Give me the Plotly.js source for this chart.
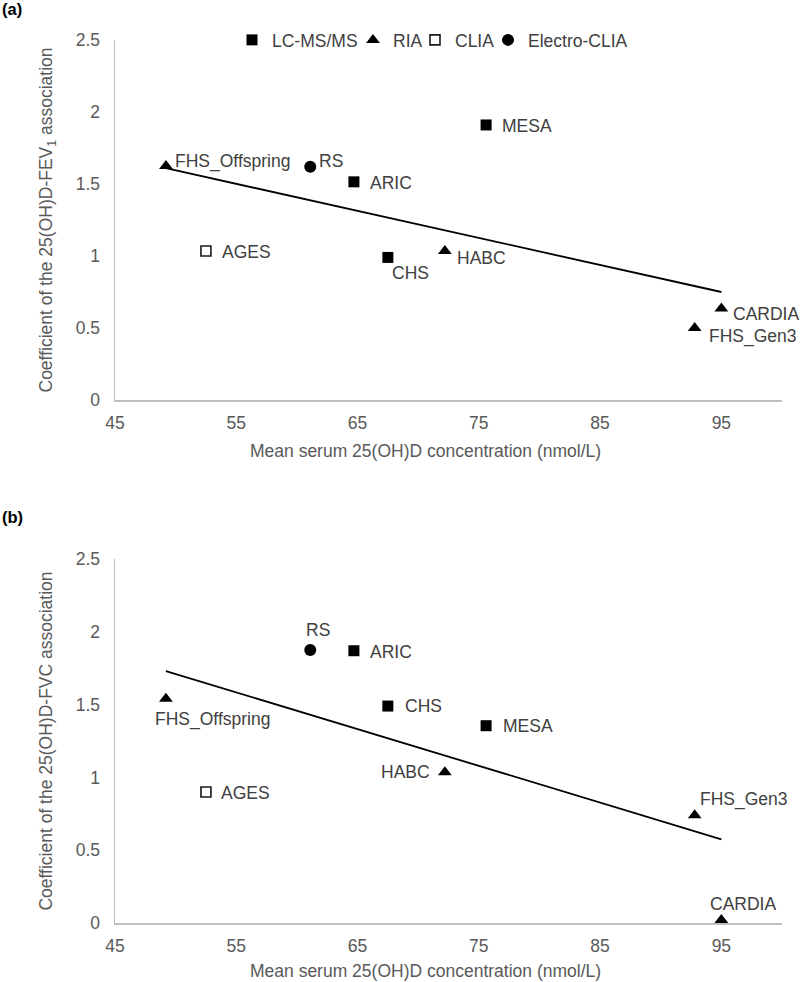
<!DOCTYPE html>
<html><head><meta charset="utf-8">
<script src="https://cdn.plot.ly/plotly-3.0.1.min.js"></script>
<style>html,body{margin:0;padding:0;background:#fff;} #chart{width:800px;height:982px;}</style>
</head><body><div id="chart"></div>
<script>
// ---------------- data ----------------
const cohorts   = ['FHS_Offspring','RS','ARIC','MESA','AGES','CHS','HABC','CARDIA','FHS_Gen3'];
const assay     = ['RIA','Electro-CLIA','LC-MS/MS','LC-MS/MS','CLIA','LC-MS/MS','RIA','RIA','RIA'];
const meanVitD  = [49.2, 61.1, 64.7, 75.6, 52.5, 67.5, 72.2, 95.0, 92.8];
const coefFEV1  = [1.625, 1.62, 1.515, 1.91, 1.035, 0.99, 1.035, 0.635, 0.50];
const coefFVC   = [1.54, 1.875, 1.87, 1.355, 0.90, 1.49, 1.035, 0.02, 0.74];
const trendX    = [49.2, 95.0];
const trendFEV1 = [1.61, 0.75];
const trendFVC  = [1.73, 0.575];
const methods   = ['LC-MS/MS','RIA','CLIA','Electro-CLIA'];
const xTicks    = [45, 55, 65, 75, 85, 95];
const yTicks    = [0, 0.5, 1, 1.5, 2, 2.5];
const xTitle    = 'Mean serum 25(OH)D concentration (nmol/L)';
const yTitleA   = 'Coefficient of the 25(OH)D-FEV<sub>1</sub> association';
const yTitleB   = 'Coefficient of the 25(OH)D-FVC association';

// ---------------- styles / positions ----------------
const FONT = 'Liberation Sans, Arial, sans-serif';
const FS = 17.5;
const GREY = '#595959';
const LABEL = '#404040';
const methodStyle = {
  'LC-MS/MS':     {symbol:'square',      size:11, color:'#000', line:{color:'#000', width:0}},
  'RIA':          {symbol:'triangle-up', size:12, color:'#000', line:{color:'#000', width:0}},
  'CLIA':         {symbol:'square',      size:10, color:'#fff', line:{color:'#1a1a1a', width:1.6}},
  'Electro-CLIA': {symbol:'circle',      size:12, color:'#000', line:{color:'#000', width:0}}
};
const legendNames = ['legend','legend2','legend3','legend4'];
const legendPx = [252, 373, 435, 508];   // symbol centre, px
// label placement per cohort: [xanchor, dx(px), dy(px, down positive)]
const labelPosA = [['left',6.6,-5],['left',6.7,-5.7],['left',14,1],['left',14,0.7],['left',14,0.7],
                   ['left',2.4,15.4],['left',9.7,6.6],['left',10,5.7],['left',12,8.4]];
const labelPosB = [['left',-13.4,21],['left',-6,-20],['left',14,1],['left',15,0.7],['left',13.3,0.6],
                   ['left',15,0],['right',-13.3,-0.6],['left',-13.4,-16],['left',3.3,-15.7]];

const L = 115, R = 18, T = 40, B = 59, W = 800, H = 982;
const plotW = W - L - R, plotH = H - T - B;
const pxX = px => (px - L) / plotW;
const pxY = py => (H - B - py) / plotH;

const traces = [];
function addPanel(yvals, trendY, xa, ya, showLeg) {
  methods.forEach((m, k) => {
    const idx = assay.map((a, i) => a === m ? i : -1).filter(i => i >= 0);
    const st = methodStyle[m];
    traces.push({
      type:'scatter', mode:'markers', name:m, xaxis:xa, yaxis:ya,
      x: idx.map(i => meanVitD[i]), y: idx.map(i => yvals[i]),
      text: idx.map(i => cohorts[i]),
      marker:{symbol:st.symbol, size:st.size, color:st.color, line:st.line},
      cliponaxis:false, showlegend:showLeg, legend:legendNames[k]
    });
  });
  traces.push({type:'scatter', mode:'lines', x:trendX, y:trendY, xaxis:xa, yaxis:ya,
    line:{color:'#000', width:1.8}, showlegend:false, hoverinfo:'skip'});
}
addPanel(coefFEV1, trendFEV1, 'x', 'y', true);
addPanel(coefFVC, trendFVC, 'x2', 'y2', false);

const annotations = [];
function addLabels(yvals, pos, xr, yr) {
  cohorts.forEach((c, i) => {
    const p = pos[i];
    annotations.push({x:meanVitD[i], y:yvals[i], xref:xr, yref:yr, text:c, showarrow:false,
      xanchor:p[0], yanchor:'middle', xshift:p[1], yshift:-p[2],
      font:{family:FONT, size:FS, color:LABEL}});
  });
}
addLabels(coefFEV1, labelPosA, 'x', 'y');
addLabels(coefFVC, labelPosB, 'x2', 'y2');
annotations.push({xref:'paper', yref:'paper', x:pxX(0), y:pxY(9), xanchor:'left', yanchor:'middle',
  text:'<b>(a)</b>', showarrow:false, font:{family:FONT, size:16.5, color:'#000'}});
annotations.push({xref:'paper', yref:'paper', x:pxX(0), y:pxY(517), xanchor:'left', yanchor:'middle',
  text:'<b>(b)</b>', showarrow:false, font:{family:FONT, size:16.5, color:'#000'}});
// x-axis titles (centred over the whole chart area, as in the original)
[[451], [971]].forEach(([py]) => {
  annotations.push({xref:'paper', yref:'paper', x:pxX(425.5), y:pxY(py), xanchor:'center', yanchor:'middle',
    text:xTitle, showarrow:false, font:{family:FONT, size:FS, color:GREY}});
});

function xAxis(anchor) {
  return {anchor:anchor, range:[45, 100], tickvals:xTicks, showgrid:false, zeroline:false,
    showline:true, linecolor:'#bfbfbf', linewidth:1.5, ticks:'', ticklabelstandoff:6,
    tickfont:{family:FONT, size:FS, color:GREY}};
}
function yAxis(anchor, dom, title) {
  return {anchor:anchor, domain:dom, range:[0, 2.5], tickvals:yTicks, showgrid:false, zeroline:false,
    showline:true, linecolor:'#bfbfbf', linewidth:1.5, ticks:'', ticklabelstandoff:10,
    tickfont:{family:FONT, size:FS, color:GREY},
    title:{text:title, standoff:18, font:{family:FONT, size:FS, color:GREY}}};
}

const layout = {
  width:W, height:H, margin:{l:L, r:R, t:T, b:B},
  paper_bgcolor:'#fff', plot_bgcolor:'#fff',
  font:{family:FONT, size:FS, color:GREY},
  xaxis: xAxis('y'),
  yaxis: yAxis('x', [pxY(400), 1], yTitleA),
  xaxis2: xAxis('y2'),
  yaxis2: yAxis('x2', [0, pxY(559)], yTitleB),
  annotations: annotations,
  hovermode:false
};
legendNames.forEach((ln, k) => {
  layout[ln] = {x:pxX(legendPx[k] - 20), y:1, xanchor:'left', yanchor:'middle',
    orientation:'h', bgcolor:'rgba(0,0,0,0)', borderwidth:0, itemwidth:30,
    font:{family:FONT, size:FS, color:LABEL}};
});

Plotly.newPlot('chart', traces, layout, {displayModeBar:false, staticPlot:true});
</script>
</body></html>
